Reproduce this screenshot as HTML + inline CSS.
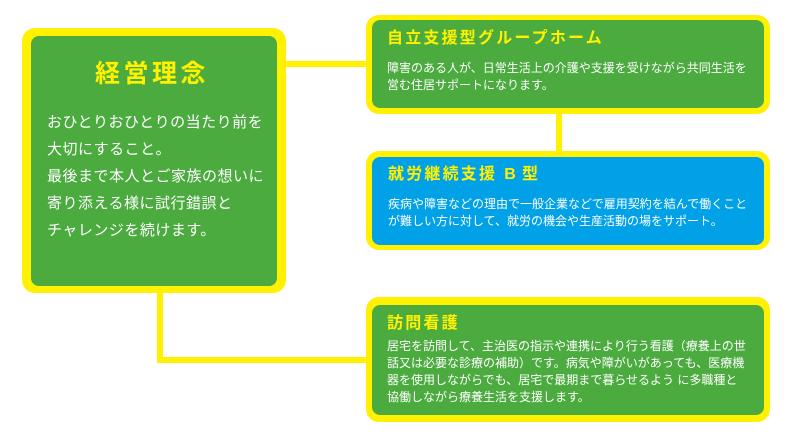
<!DOCTYPE html>
<html><head><meta charset="utf-8">
<style>
html,body{margin:0;padding:0;background:#fff;}
body{width:800px;height:432px;position:relative;overflow:hidden;font-family:"Liberation Sans","Noto Sans CJK JP",sans-serif;}
.a{position:absolute;}
.y{background:#fff100;}
.g{background:#4bab3f;}
.b{background:#00a1e6;}
.t{position:absolute;color:#fff100;font-weight:bold;white-space:nowrap;}
.p{position:absolute;color:#fff;white-space:nowrap;}
</style></head><body>
<!-- connectors -->
<div class="a y" style="left:284px;top:61px;width:84px;height:6px;"></div>
<div class="a y" style="left:157px;top:290px;width:6px;height:73px;"></div>
<div class="a y" style="left:157px;top:357px;width:212px;height:6px;"></div>
<div class="a y" style="left:556px;top:112px;width:6px;height:42px;"></div>

<!-- main box -->
<div class="a y" style="left:22px;top:28px;width:264px;height:265px;border-radius:13px;"></div>
<div class="a g" style="left:31px;top:36px;width:246px;height:250px;border-radius:8px;"></div>
<div class="t" style="left:95px;top:58px;font-size:25px;line-height:32px;letter-spacing:3.5px;">経営理念</div>
<div class="p" style="left:47px;top:109px;font-size:15px;line-height:27px;letter-spacing:0.5px;">おひとりおひとりの当たり前を<br>大切にすること。<br>最後まで本人とご家族の想いに<br>寄り添える様に試行錯誤と<br>チャレンジを続けます。</div>

<!-- box 1 -->
<div class="a y" style="left:366px;top:15px;width:404px;height:99px;border-radius:13px;"></div>
<div class="a g" style="left:372px;top:20px;width:392px;height:88px;border-radius:8px;"></div>
<div class="t" style="left:387px;top:28px;font-size:16px;line-height:22px;letter-spacing:2.2px;">自立支援型グループホーム</div>
<div class="p" style="left:387px;top:59.5px;font-size:12px;line-height:17px;">障害のある人が、日常生活上の介護や支援を受けながら共同生活を<br>営む住居サポートになります。</div>

<!-- box 2 -->
<div class="a y" style="left:366px;top:151px;width:404px;height:99px;border-radius:13px;"></div>
<div class="a b" style="left:372px;top:157px;width:392px;height:88px;border-radius:8px;"></div>
<div class="t" style="left:388px;top:164px;font-size:16px;line-height:22px;letter-spacing:2.2px;">就労継続支援<span style="margin-left:7px;">B</span><span style="margin-left:4px;">型</span></div>
<div class="p" style="left:388px;top:195.5px;font-size:12px;line-height:17px;">疾病や障害などの理由で一般企業などで雇用契約を結んで働くこと<br>が難しい方に対して、就労の機会や生産活動の場をサポート。</div>

<!-- box 3 -->
<div class="a y" style="left:366px;top:297px;width:404px;height:125px;border-radius:13px;"></div>
<div class="a g" style="left:372px;top:305px;width:392px;height:110px;border-radius:8px;"></div>
<div class="t" style="left:387px;top:313px;font-size:16px;line-height:22px;letter-spacing:2.2px;">訪問看護</div>
<div class="p" style="left:387px;top:338px;font-size:12px;line-height:17px;">居宅を訪問して、主治医の指示や連携により行う看護（療養上の世<br>話又は必要な診療の補助）です。病気や障がいがあっても、医療機<br>器を使用しながらでも、居宅で最期まで暮らせるよう に多職種と<br>協働しながら療養生活を支援します。</div>
</body></html>
